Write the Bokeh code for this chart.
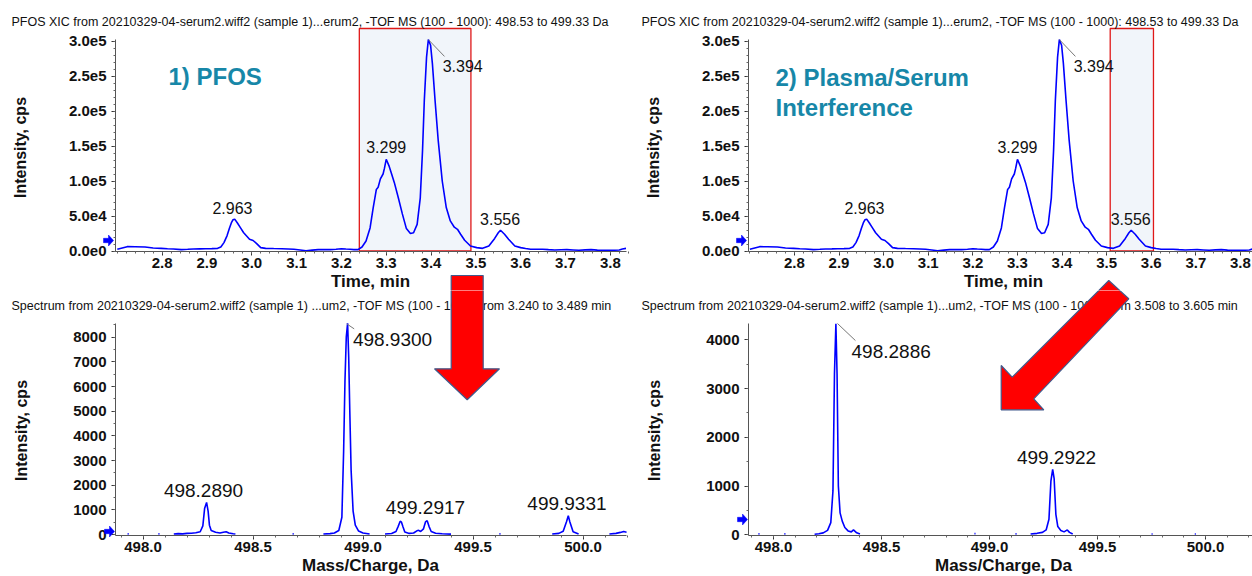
import math
import numpy as np
from bokeh.plotting import figure
from bokeh.layouts import gridplot
from bokeh.models import Range1d, FixedTicker, BoxAnnotation, PolyAnnotation, Label
from bokeh.embed import file_html
from bokeh.resources import INLINE

NAN = float("nan")

# ---------------- data ----------------
xic_title = "PFOS XIC from 20210329-04-serum2.wiff2 (sample 1)...erum2, -TOF MS (100 - 1000): 498.53 to 499.33 Da"
xic_time = [2.700, 2.722, 2.740, 2.762, 2.780, 2.798, 2.812, 2.825, 2.843, 2.857, 2.870, 2.884, 2.897, 2.911,
            2.924, 2.931, 2.938, 2.945, 2.950, 2.955, 2.958, 2.962, 2.968, 2.975, 2.982, 2.989, 2.995, 3.003,
            3.011, 3.020, 3.031, 3.049, 3.067, 3.081, 3.094, 3.108, 3.121, 3.135, 3.148, 3.162, 3.175, 3.188,
            3.200, 3.210, 3.219, 3.228, 3.237, 3.246, 3.255, 3.264, 3.271, 3.278, 3.282, 3.287, 3.293, 3.296,
            3.300, 3.306, 3.311, 3.318, 3.327, 3.336, 3.345, 3.354, 3.361, 3.369, 3.376, 3.381, 3.385, 3.390,
            3.394, 3.399, 3.403, 3.409, 3.416, 3.425, 3.434, 3.443, 3.452, 3.459, 3.466, 3.475, 3.488, 3.502,
            3.515, 3.529, 3.542, 3.550, 3.555, 3.564, 3.573, 3.587, 3.600, 3.611, 3.622, 3.636, 3.649, 3.662,
            3.676, 3.690, 3.703, 3.717, 3.730, 3.744, 3.757, 3.771, 3.784, 3.797, 3.810, 3.820, 3.827, 3.835]
xic_intensity = [2400, 6200, 6000, 5700, 4300, 3800, 3300, 2900, 1900, 2400, 2900, 3100, 3300, 3400,
                 3800, 5700, 12000, 22000, 32000, 41000, 44500, 45500, 40000, 33000, 26000, 21000, 16700, 15000,
                 10500, 4800, 3800, 3500, 3300, 2900, 2400, 1500, 300, 1200, 1900, 2100, 1900, 2600,
                 3300, 2800, 2400, 2000, 1900, 5700, 14300, 33000, 62000, 88000, 91000, 103000, 110000, 118000,
                 131000, 122000, 112000, 98000, 76000, 53000, 32000, 25000, 26000, 38000, 76000, 143000, 215000, 277000,
                 302000, 294000, 268000, 215000, 158000, 100000, 62000, 43000, 34000, 31000, 24000, 15300, 7200, 4800,
                 3800, 7200, 18000, 26000, 29600, 24000, 16700, 7200, 4800, 3500, 2400, 2600, 2400, 1900,
                 1400, 1700, 1900, 1500, 1000, 1600, 1900, 1200, 1000, 1100, 1000, 1500, 2900, 3800]
xic_peak_text = ["2.963", "3.299", "3.394", "3.556"]
xic_peak_label_x = [2.957, 3.300, 3.426, 3.554]
xic_peak_label_y = [61500, 148300, 265000, 46300]
xic_peak_label_align = ["center", "center", "left", "center"]
xic_leader_x = [3.394, 3.430]
xic_leader_y = [302000, 278000]
xic_xticks = [2.8, 2.9, 3.0, 3.1, 3.2, 3.3, 3.4, 3.5, 3.6, 3.7, 3.8]
xic_xtick_labels = ["2.8", "2.9", "3.0", "3.1", "3.2", "3.3", "3.4", "3.5", "3.6", "3.7", "3.8"]
xic_yticks = [0, 50000, 100000, 150000, 200000, 250000, 300000]
xic_ytick_labels = ["0.0e0", "5.0e4", "1.0e5", "1.5e5", "2.0e5", "2.5e5", "3.0e5"]
window_pfos = (3.240, 3.489)
window_interf = (3.508, 3.605)

spec1_title = "Spectrum from 20210329-04-serum2.wiff2 (sample 1) ...um2, -TOF MS (100 - 1000) from 3.240 to 3.489 min"
spec1_mz = [497.93, 497.935, NAN,
            498.07, 498.075, NAN,
            498.14, 498.16, 498.18, 498.20, 498.22, 498.24, 498.26, 498.272, 498.28, 498.289, 498.296, 498.302,
            498.31, 498.33, 498.35, 498.365, 498.378, 498.39, 498.41, 498.42, NAN,
            498.68, 498.685, NAN,
            498.82, 498.85, 498.87, 498.89, 498.904, 498.912, 498.918, 498.924, 498.930, 498.935, 498.940,
            498.946, 498.955, 498.965, 498.98, 499.00, 499.03, NAN,
            499.10, 499.13, 499.15, 499.16, 499.169, 499.175, 499.182, 499.19, 499.21, 499.23, 499.245, 499.253,
            499.262, 499.275, 499.284, 499.2917, 499.30, 499.31, 499.33, 499.36, 499.40, NAN,
            499.62, 499.625, NAN,
            499.86, 499.89, 499.91, 499.925, 499.9331, 499.94, 499.955, 499.98, NAN,
            500.12, 500.15, 500.17, 500.185, 500.198]
spec1_int = [25, 25, NAN,
             25, 25, NAN,
             20, 35, 25, 45, 50, 70, 110, 350, 1050, 1300, 950, 380,
             160, 90, 60, 90, 110, 60, 30, 20, NAN,
             25, 25, NAN,
             20, 35, 60, 160, 700, 3400, 6200, 8000, 8560, 7200, 5000,
             2600, 950, 380, 140, 60, 20, NAN,
             20, 40, 120, 330, 540, 500, 300, 100, 45, 60, 150, 170,
             120, 230, 510, 560, 330, 120, 50, 30, 15, NAN,
             25, 25, NAN,
             20, 45, 130, 520, 760, 520, 110, 20, NAN,
             20, 45, 85, 120, 95]
spec1_peak_text = ["498.2890", "498.9300", "499.2917", "499.9331"]
spec1_label_x = [498.275, 498.954, 499.284, 499.927]
spec1_label_y = [1784, 7893, 1095, 1269]
spec1_label_align = ["center", "left", "center", "center"]
spec1_leader_x = [498.926, 498.960]
spec1_leader_y = [8541, 8338]
spec1_yticks = [0, 1000, 2000, 3000, 4000, 5000, 6000, 7000, 8000]
spec1_ytick_labels = ["0", "1000", "2000", "3000", "4000", "5000", "6000", "7000", "8000"]

spec2_title = "Spectrum from 20210329-04-serum2.wiff2 (sample 1)...um2, -TOF MS (100 - 1000) from 3.508 to 3.605 min"
spec2_mz = [497.93, 497.935, NAN,
            498.05, 498.055, NAN,
            498.19, 498.21, 498.23, 498.25, 498.265, 498.275, 498.282, 498.2886, 498.294, 498.300, 498.308,
            498.318, 498.33, 498.345, 498.36, 498.37, 498.385, 498.40, NAN,
            498.93, 498.935, NAN,
            499.12, 499.125, NAN,
            499.19, 499.22, 499.245, 499.262, 499.275, 499.284, 499.2922, 499.299, 499.307, 499.316, 499.33,
            499.345, 499.36, 499.37, 499.385, NAN,
            499.75, 499.755, NAN,
            499.95, 499.955]
spec2_int = [20, 20, NAN,
             20, 20, NAN,
             10, 20, 40, 90, 250, 900, 3300, 4330, 3300, 1000, 450,
             280, 150, 80, 60, 100, 40, 15, NAN,
             25, 25, NAN,
             20, 20, NAN,
             15, 30, 50, 100, 320, 1100, 1340, 1150, 420, 170, 90,
             60, 100, 50, 15, NAN,
             15, 15, NAN,
             15, 15]
spec2_peak_text = ["498.2886", "499.2922"]
spec2_label_x = [498.361, 499.310]
spec2_label_y = [3760, 1592]
spec2_label_align = ["left", "center"]
spec2_leader_x = [498.296, 498.379]
spec2_leader_y = [4334, 3985]
spec2_yticks = [0, 1000, 2000, 3000, 4000]
spec2_ytick_labels = ["0", "1000", "2000", "3000", "4000"]

spec_xticks = [498.0, 498.5, 499.0, 499.5, 500.0]
spec_xtick_labels = ["498.0", "498.5", "499.0", "499.5", "500.0"]

# ---------------- layout (pixel geometry of the 4 panels on the page) ----------------
FONT = "Liberation Sans"
BLUE = "#0000ff"
TEAL = "#1787a8"


def panel(ox, oy, w, h, ax_x, x_at_axis, x_scale, zero_y, y_scale, xaxis_px, yaxis_top_px, xaxis_end_px):
    P = dict(ox=ox, oy=oy, w=w, h=h, ax_x=ax_x, x_at_axis=x_at_axis, x_scale=x_scale,
             zero_y=zero_y, y_scale=y_scale)
    P["x0"] = x_at_axis - (ax_x - ox) / x_scale
    P["x1"] = P["x0"] + w / x_scale
    P["y1"] = (zero_y - oy) / y_scale
    P["y0"] = (zero_y - oy - h) / y_scale
    P["xaxis_px"] = xaxis_px
    P["yaxis_top_px"] = yaxis_top_px
    P["xaxis_end_px"] = xaxis_end_px
    return P


def to_data(P, X, Y):
    return P["x0"] + (X - P["ox"]) / P["x_scale"], (P["zero_y"] - Y) / P["y_scale"]


PANELS = {
    "tl": panel(0, 0, 630, 290, 115, 2.696, 448.2, 250.5, 35 / 50000, 251, 39, 626),
    "tr": panel(630, 0, 622, 290, 748, 2.697, 446.0, 250.5, 35 / 50000, 251, 39, 1252),
    "bl": panel(0, 290, 630, 286, 115, 497.875, 220.0, 534.0, 197.3 / 8000, 535, 323, 626),
    "br": panel(630, 290, 622, 286, 748, 497.884, 216.0, 534.3, 195.0 / 4000, 535, 323, 1252),
}


def make_fig(P):
    p = figure(width=P["w"], height=P["h"], x_range=Range1d(P["x0"], P["x1"]),
               y_range=Range1d(P["y0"], P["y1"]), output_backend="svg", toolbar_location=None,
               min_border_left=0, min_border_right=0, min_border_top=0, min_border_bottom=0)
    p.outline_line_color = None
    p.grid.visible = False
    p.background_fill_color = "white"
    p.border_fill_color = "white"
    return p


def style_axes(p, P, xt, xl, xminor, yt, yl, yminor):
    xa, ya = p.xaxis[0], p.yaxis[0]
    x_axis_y = to_data(P, 0, P["xaxis_px"])[1]
    xa.fixed_location = x_axis_y
    ya.fixed_location = P["x_at_axis"]
    xa.bounds = (P["x_at_axis"], to_data(P, P["xaxis_end_px"], 0)[0])
    ya.bounds = (x_axis_y, to_data(P, 0, P["yaxis_top_px"])[1])
    xa.ticker = FixedTicker(ticks=xt, minor_ticks=xminor)
    xa.major_label_overrides = dict(zip(xt, xl))
    ya.ticker = FixedTicker(ticks=yt, minor_ticks=yminor)
    ya.major_label_overrides = dict(zip(yt, yl))
    for ax in (xa, ya):
        ax.axis_line_color = "#555555"
        ax.major_tick_line_color = "#333333"
        ax.minor_tick_line_color = "#666666"
        ax.major_tick_in = 0
        ax.major_tick_out = 4
        ax.minor_tick_in = 0
        ax.minor_tick_out = 2
        ax.major_label_text_font = FONT
        ax.major_label_text_font_size = "15px"
        ax.major_label_text_font_style = "bold"
        ax.major_label_text_color = "#111111"
    xa.major_label_standoff = 2
    ya.major_label_standoff = 5


def add_px_label(p, P, X, Y, text, size, bold=False, color="#111111", align="left", angle=0.0, font=FONT):
    xd, yd = to_data(P, X, Y)
    p.add_layout(Label(x=xd, y=yd, text=text, text_font=font, text_font_size=f"{size}px",
                       text_font_style="bold" if bold else "normal", text_color=color,
                       text_align=align, text_baseline="middle", angle=angle))


def add_data_labels(p, xs, ys, texts, aligns, size):
    for x, y, t, a in zip(xs, ys, texts, aligns):
        p.add_layout(Label(x=x, y=y, text=t, text_font=FONT, text_font_size=f"{size}px",
                           text_color="#111111", text_align=a, text_baseline="middle"))


def add_px_poly(p, P, pts, fill="#ff0000", line="#41598b", lw=1.2):
    xs, ys = [], []
    for X, Y in pts:
        xd, yd = to_data(P, X, Y)
        xs.append(xd)
        ys.append(yd)
    p.add_layout(PolyAnnotation(xs=xs, ys=ys, fill_color=fill, fill_alpha=1.0,
                                line_color=line, line_alpha=1.0, line_width=lw))


def marker_pts(cx, cy):
    shape = [(-5, -2.2), (0, -2.2), (0, -5.5), (5, 0), (0, 5.5), (0, 2.2), (-5, 2.2)]
    return [(cx + dx, cy + dy) for dx, dy in shape]


# decorative arrows (whole-page pixel coordinates)
ARROW_DOWN = [(450.7, 275), (482.7, 275), (482.7, 368.3), (499, 368.3), (466.7, 399.3), (434, 368.3), (450.7, 368.3)]
ARROW_DIAG = [(1000.7, 409.3), (1000.7, 365), (1011.7, 376.7), (1108.3, 280), (1128.3, 298.3),
              (1033.3, 398.3), (1043.3, 409.3)]

xic_xminor = [round(2.70 + 0.02 * i, 3) for i in range(58)]
xic_yminor = [10000 * i for i in range(31)]
spec_xminor = [round(497.9 + 0.1 * i, 2) for i in range(24)]
spec1_yminor = [500 * i for i in range(18)]
spec2_yminor = [500 * i for i in range(9)]

figs = {}
for key, window, note in (("tl", window_pfos, ["1) PFOS"]),
                          ("tr", window_interf, ["2) Plasma/Serum", "Interference"])):
    P = PANELS[key]
    p = make_fig(P)
    box_top = to_data(P, 0, 28)[1]
    p.add_layout(BoxAnnotation(left=window[0], right=window[1], bottom=0, top=box_top,
                               fill_color="#f1f5fa", fill_alpha=1.0, line_color="#e01818",
                               line_alpha=1.0, line_width=1.3, level="underlay"))
    p.line(np.array(xic_time), np.array(xic_intensity), line_color=BLUE, line_width=1.6)
    p.segment(x0=[xic_leader_x[0]], y0=[xic_leader_y[0]], x1=[xic_leader_x[1]], y1=[xic_leader_y[1]],
              line_color="#777777", line_width=1)
    style_axes(p, P, xic_xticks, xic_xtick_labels, xic_xminor, xic_yticks, xic_ytick_labels, xic_yminor)
    add_data_labels(p, xic_peak_label_x, xic_peak_label_y, xic_peak_text, xic_peak_label_align, 16)
    add_px_label(p, P, P["ox"] + 11, 21, xic_title, 12.5)
    if key == "tl":
        add_px_label(p, P, 168, 76, note[0], 24, bold=True, color=TEAL)
    else:
        add_px_label(p, P, 775, 77, note[0], 24, bold=True, color=TEAL)
        add_px_label(p, P, 775, 107, note[1], 24, bold=True, color=TEAL)
    add_px_label(p, P, P["ax_x"] + 255, 281, "Time, min", 17, bold=True, align="center")
    add_px_label(p, P, P["ax_x"] - 95, 147, "Intensity, cps", 16, bold=True, align="center", angle=math.pi / 2)
    add_px_poly(p, P, marker_pts(P["ax_x"] - 7, 240), fill=BLUE, line=BLUE, lw=0.5)
    add_px_poly(p, P, ARROW_DOWN if key == "tl" else ARROW_DIAG)
    figs[key] = p

for key, mz, inten, texts, lx, ly, la, ldx, ldy, yt, yl, ym, title in (
        ("bl", spec1_mz, spec1_int, spec1_peak_text, spec1_label_x, spec1_label_y, spec1_label_align,
         spec1_leader_x, spec1_leader_y, spec1_yticks, spec1_ytick_labels, spec1_yminor, spec1_title),
        ("br", spec2_mz, spec2_int, spec2_peak_text, spec2_label_x, spec2_label_y, spec2_label_align,
         spec2_leader_x, spec2_leader_y, spec2_yticks, spec2_ytick_labels, spec2_yminor, spec2_title)):
    P = PANELS[key]
    p = make_fig(P)
    p.line(np.array(mz, dtype=float), np.array(inten, dtype=float), line_color=BLUE, line_width=1.6)
    p.segment(x0=[ldx[0]], y0=[ldy[0]], x1=[ldx[1]], y1=[ldy[1]], line_color="#777777", line_width=1)
    style_axes(p, P, spec_xticks, spec_xtick_labels, spec_xminor, yt, yl, ym)
    add_data_labels(p, lx, ly, texts, la, 19)
    add_px_label(p, P, P["ox"] + 11, 305, title, 12.5)
    add_px_label(p, P, P["ax_x"] + 255, 565, "Mass/Charge, Da", 17, bold=True, align="center")
    add_px_label(p, P, P["ax_x"] - 94, 430, "Intensity, cps", 16, bold=True, align="center", angle=math.pi / 2)
    marker_y = 531 if key == "bl" else 519
    add_px_poly(p, P, marker_pts(P["ax_x"] - 6, marker_y), fill=BLUE, line=BLUE, lw=0.5)
    add_px_poly(p, P, ARROW_DOWN if key == "bl" else ARROW_DIAG)
    figs[key] = p

grid = gridplot([[figs["tl"], figs["tr"]], [figs["bl"], figs["br"]]], toolbar_location=None)

open("out.html", "w").write(file_html(grid, INLINE))
